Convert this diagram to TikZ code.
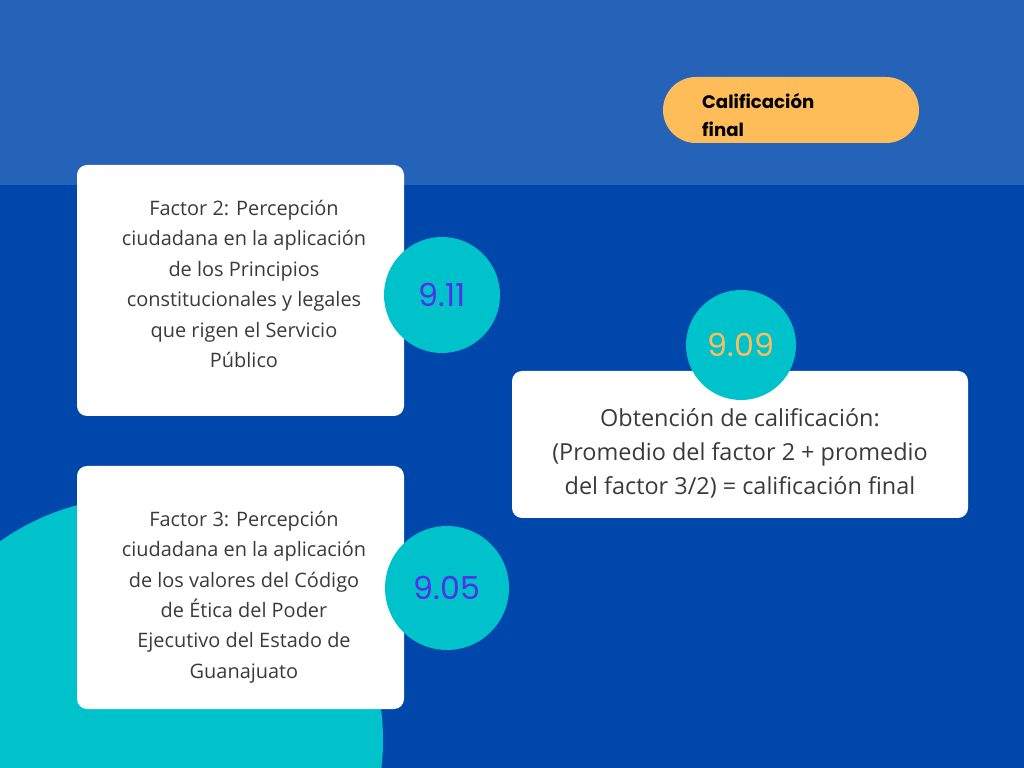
\documentclass[tikz,border=0pt]{standalone}
\usepackage{fontspec}
\setmainfont{Open Sans}
\newfontfamily\numfont{Poppins}
\definecolor{topband}{HTML}{2563B8}
\definecolor{bg}{HTML}{0047AB}
\definecolor{cyanc}{HTML}{00C2CB}
\definecolor{orangec}{HTML}{FFBD59}
\definecolor{violetc}{HTML}{5030E8}
\definecolor{txt}{HTML}{3A3A3A}
\begin{document}
\begin{tikzpicture}[x=0.03cm,y=-0.03cm,
  box/.style={fill=white,rounded corners=0.3cm},
  boxtext/.style={align=center,text=txt,font=\fontsize{17}{26}\selectfont},
  num/.style={circle,fill=cyanc,inner sep=0pt,font=\numfont\fontsize{27}{30}\selectfont}]
\useasboundingbox (0,0) rectangle (1024,768);
\fill[bg] (0,0) rectangle (1024,768);
\fill[topband] (0,0) rectangle (1024,185);
\begin{scope}
\clip (0,0) rectangle (1024,768);
\fill[cyanc] (140,740) circle[radius=243*0.03cm];
\end{scope}
\fill[orangec,rounded corners=0.99cm] (663,77) rectangle (919,143);
\node[anchor=west,align=left,font=\numfont\bfseries\fontsize{15.5}{24}\selectfont] (pill) at (698,115) {Calificación\\final};
\fill[box] (77,165) rectangle (404,416);
\fill[box] (77,466) rectangle (404,709);
\fill[box] (512,371) rectangle (968,518);
\node[boxtext] (t1) at (244,284) {Factor 2: Percepción\\ciudadana en la aplicación\\de los Principios\\constitucionales y legales\\que rigen el Servicio\\Público};
\node[boxtext] (t2) at (244,597) {Factor 3: Percepción\\ciudadana en la aplicación\\de los valores del Código\\de Ética del Poder\\Ejecutivo del Estado de\\Guanajuato};
\node[boxtext,font=\fontsize{20}{29}\selectfont] (t3) at (740,453) {Obtención de calificación:\\(Promedio del factor 2 + promedio\\del factor 3/2) = calificación final};
\node[num,minimum size=116*0.03cm,text=violetc] (n1) at (442,295) {9.11};
\node[num,minimum size=110*0.03cm,text=orangec] (n2) at (741,345) {9.09};
\node[num,minimum size=124*0.03cm,text=violetc] (n3) at (447,588) {9.05};
\end{tikzpicture}
\end{document}
